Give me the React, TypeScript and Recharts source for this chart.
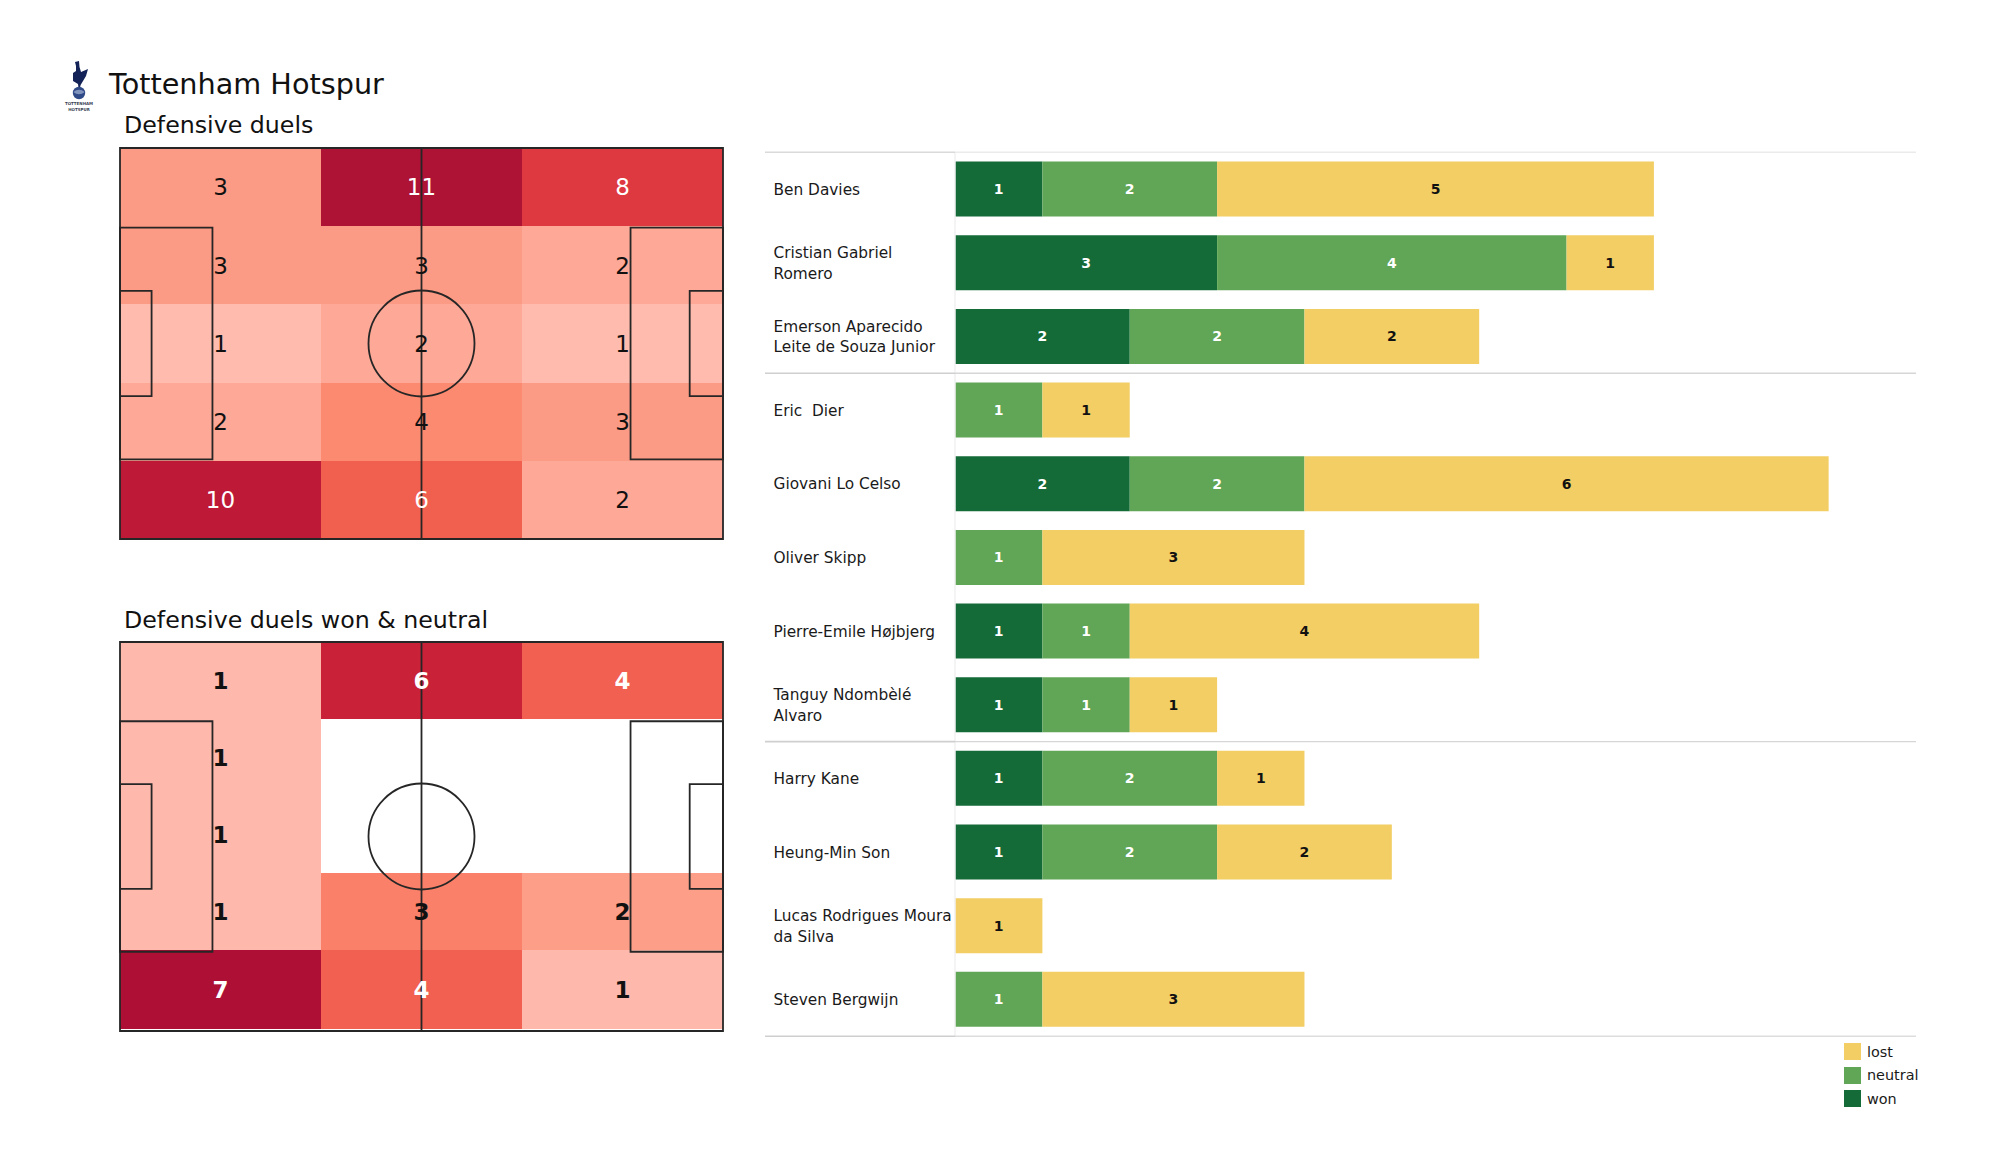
import React from 'react';
import {
  BarChart, Bar, XAxis, YAxis, LabelList, ReferenceLine, Legend,
  ScatterChart, Scatter, ReferenceArea, ReferenceDot,
} from 'recharts';

const FONT = '"DejaVu Sans", sans-serif';

// ---- heatmaps ----
const pitchXEdges = [0, 35, 70, 105];
const duelYEdges = [0, 13.6, 27.2, 40.8, 54.4, 68];
const wonNeutralYEdges = [0, 13.4, 26.9, 40.4, 53.9, 67.6];
const duelCounts = [
  [3, 11, 8],
  [3, 3, 2],
  [1, 2, 1],
  [2, 4, 3],
  [10, 6, 2],
];
const wonNeutralCounts = [
  [1, 6, 4],
  [1, 0, 0],
  [1, 0, 0],
  [1, 3, 2],
  [7, 4, 1],
];
const duelFills: Record<number, string> = {
  1: '#FEBBAE', 2: '#FEA897', 3: '#FC9B85', 4: '#FB8A71', 6: '#F1604F', 8: '#DE3840', 10: '#BE1A37', 11: '#AE1235',
};
const wonNeutralFills: Record<number, string> = {
  0: '#FFFFFF', 1: '#FEB9AC', 2: '#FC9E88', 3: '#FB8069', 4: '#F16050', 6: '#C92238', 7: '#AE1035',
};

// ---- bars ----
const players = [
  'Ben Davies',
  'Cristian Gabriel\nRomero',
  'Emerson Aparecido\nLeite de Souza Junior',
  'Eric  Dier',
  'Giovani Lo Celso',
  'Oliver Skipp',
  'Pierre-Emile Højbjerg',
  'Tanguy Ndombèlé\nAlvaro',
  'Harry Kane',
  'Heung-Min Son',
  'Lucas Rodrigues Moura\nda Silva',
  'Steven Bergwijn',
];
const won = [1, 3, 2, 0, 2, 0, 1, 1, 1, 1, 0, 0];
const neutral = [2, 4, 2, 1, 2, 1, 1, 1, 2, 2, 0, 1];
const lost = [5, 1, 2, 1, 6, 3, 4, 1, 1, 2, 1, 3];
const playerRows = players.map((player, i) => ({ player, won: won[i], neutral: neutral[i], lost: lost[i] }));
const X_MIN = -2.175;
const X_MAX = 11;
const rules = [
  { row: 0, position: 'start', left: '#DADADA', right: '#EBEBEB' },
  { row: 3, position: 'start', left: '#CFCFCF', right: '#D6D6D6' },
  { row: 8, position: 'start', left: '#CFCFCF', right: '#D6D6D6' },
  { row: 11, position: 'end', left: '#CFCFCF', right: '#DDDDDD' },
];
const COLORS = { won: '#156B38', neutral: '#60A656', lost: '#F2CE64' };

const LINE = '#262626';

function PitchMap({ counts, fills, yEdges, left, top, height, bold, whiteFrom }: any) {
  const cells = counts.flatMap((row: number[], r: number) => row.map((count, c) => ({
    x: (pitchXEdges[c] + pitchXEdges[c + 1]) / 2,
    y: (yEdges[r] + yEdges[r + 1]) / 2,
    count, r, c,
  })));
  const box = (x1: number, x2: number, y1: number, y2: number, key: string) => (
    <ReferenceArea key={key} x1={x1} x2={x2} y1={y1} y2={y2} fill="none" fillOpacity={0} stroke={LINE} strokeWidth={1.8} ifOverflow="visible" />
  );
  return (
    <div style={{ position: 'absolute', left: left - 3, top: top - 3 }}>
      <ScatterChart width={609} height={height + 6} margin={{ top: 3, right: 3, bottom: 3, left: 3 }}>
        <XAxis type="number" dataKey="x" domain={[0, 105]} hide />
        <YAxis type="number" dataKey="y" domain={[0, 68]} reversed hide />
        {cells.map((d: any) => (
          <ReferenceArea key={`c${d.r}-${d.c}`} x1={pitchXEdges[d.c]} x2={pitchXEdges[d.c + 1]} y1={yEdges[d.r]} y2={yEdges[d.r + 1]}
            fill={fills[d.count]} fillOpacity={1} stroke="none" shapeRendering="crispEdges" ifOverflow="visible" />
        ))}
        {box(0, 105, 0, 68, 'frame')}
        {box(0, 16.1, 13.85, 54.15, 'boxL')}
        {box(88.9, 105, 13.85, 54.15, 'boxR')}
        {box(0, 5.5, 24.85, 43.15, 'sixL')}
        {box(99.2, 105, 24.85, 43.15, 'sixR')}
        <ReferenceLine x={52.5} stroke={LINE} strokeWidth={1.8} ifOverflow="visible" />
        <ReferenceDot x={52.5} y={34} r={53} fill="none" fillOpacity={0} stroke={LINE} strokeWidth={1.8} ifOverflow="visible" />
        <Scatter
          data={cells}
          isAnimationActive={false}
          shape={(p: any) => p.count > 0 ? (
            <text x={p.cx} y={p.cy} dy="0.36em" textAnchor="middle" fontFamily={FONT} fontSize={23}
              fontWeight={bold ? 700 : 400} fill={p.count >= whiteFrom ? '#FFFFFF' : '#111111'}>{p.count}</text>
          ) : <g />}
        />
      </ScatterChart>
    </div>
  );
}

function PlayerTick({ y, payload }: any) {
  const lines: string[] = String(payload.value).split('\n');
  const lh = 20.5;
  const start = y - ((lines.length - 1) * lh) / 2;
  return (
    <text textAnchor="start" fontFamily={FONT} fontSize={15.35} fill="#1a1a1a" style={{ whiteSpace: 'pre' }}>
      {lines.map((l, i) => <tspan key={i} x={8.5} y={start + i * lh} dy="0.36em">{l}</tspan>)}
    </text>
  );
}

const valueLabel = (v: any) => (v ? String(v) : '');

function LegendBox({ payload }: any) {
  return (
    <div style={{ fontFamily: FONT, fontSize: 14.4, color: '#1a1a1a' }}>
      {(payload || []).map((it: any) => (
        <div key={it.value} style={{ display: 'flex', alignItems: 'center', height: 23.6 }}>
          <span style={{ width: 17, height: 17, background: it.color, display: 'inline-block', marginRight: 6 }} />
          <span>{it.value}</span>
        </div>
      ))}
    </div>
  );
}

function Crest() {
  return (
    <svg style={{ position: 'absolute', left: 62, top: 58 }} width={34} height={56} viewBox="0 0 34 56">
      <path d="M13 4 L17 3 L17.5 9 L19 14 L26 11 L24 18 L21 23 L18.6 27 L18.2 29 L16.4 29 L16 26 L11 23 L11 15 L14 13 L14 8 Z" fill="#132257" />
      <circle cx="17" cy="35" r="6.2" fill="#2F4A86" />
      <path d="M11.5 34 C15 31 19 31 22.5 34 C19 37 15 37 11.5 34 Z" fill="#7F93BD" />
      <text x="17" y="47" textAnchor="middle" fontFamily={FONT} fontSize={4} fontWeight={700} fill="#3a3f52">TOTTENHAM</text>
      <text x="17" y="52.5" textAnchor="middle" fontFamily={FONT} fontSize={4} fontWeight={700} fill="#3a3f52">HOTSPUR</text>
    </svg>
  );
}

const titleStyle = (left: number, top: number, size: number): React.CSSProperties => ({
  position: 'absolute', left, top, fontFamily: FONT, fontSize: size, color: '#111', lineHeight: 1, whiteSpace: 'nowrap',
});

export default function App() {
  return (
    <div style={{ position: 'absolute', left: 0, top: 0, width: 2000, height: 1175, background: '#fff', overflow: 'hidden' }}>
      <Crest />
      <div style={titleStyle(109, 69.5, 28.7)}>Tottenham Hotspur</div>
      <div style={titleStyle(124, 114, 23.7)}>Defensive duels</div>
      <div style={titleStyle(124, 608.5, 23.7)}>Defensive duels won &amp; neutral</div>
      <PitchMap counts={duelCounts} fills={duelFills} yEdges={duelYEdges} left={120} top={148} height={391} bold={false} whiteFrom={6} />
      <PitchMap counts={wonNeutralCounts} fills={wonNeutralFills} yEdges={wonNeutralYEdges} left={120} top={642} height={389} bold whiteFrom={4} />
      <div style={{ position: 'absolute', left: 765, top: 150 }}>
        <BarChart
          width={1160} height={1000} layout="vertical" data={playerRows}
          margin={{ top: 2.3, right: 9, bottom: 43, left: 0 }}
          barCategoryGap="12.6%"
        >
          <XAxis type="number" domain={[X_MIN, X_MAX]} hide allowDataOverflow />
          <YAxis type="category" dataKey="player" mirror width={180} axisLine={false} tickLine={false} interval={0} tick={PlayerTick} />
          <ReferenceLine x={0} stroke="#F1F1F1" strokeWidth={1.5} ifOverflow="visible" />
          {rules.flatMap((r) => [
            <ReferenceLine key={`l${r.row}`} position={r.position as any} stroke={r.left} strokeWidth={1.6} ifOverflow="visible"
              segment={[{ x: X_MIN, y: players[r.row] }, { x: 0, y: players[r.row] }]} />,
            <ReferenceLine key={`r${r.row}`} position={r.position as any} stroke={r.right} strokeWidth={1.4} ifOverflow="visible"
              segment={[{ x: 0, y: players[r.row] }, { x: X_MAX, y: players[r.row] }]} />,
          ])}
          <Bar dataKey="won" name="won" stackId="a" fill={COLORS.won} isAnimationActive={false}>
            <LabelList dataKey="won" position="center" formatter={valueLabel} fill="#FFFFFF" fontFamily={FONT} fontSize={14} fontWeight={700} />
          </Bar>
          <Bar dataKey="neutral" name="neutral" stackId="a" fill={COLORS.neutral} isAnimationActive={false}>
            <LabelList dataKey="neutral" position="center" formatter={valueLabel} fill="#FFFFFF" fontFamily={FONT} fontSize={14} fontWeight={700} />
          </Bar>
          <Bar dataKey="lost" name="lost" stackId="a" fill={COLORS.lost} isAnimationActive={false}>
            <LabelList dataKey="lost" position="center" formatter={valueLabel} fill="#111111" fontFamily={FONT} fontSize={14} fontWeight={700} />
          </Bar>
          <Legend content={LegendBox as any} wrapperStyle={{ position: 'absolute', left: 1844 - 765, top: 1040 - 150, width: 90, bottom: 'auto', right: 'auto' }} />
        </BarChart>
      </div>
    </div>
  );
}
